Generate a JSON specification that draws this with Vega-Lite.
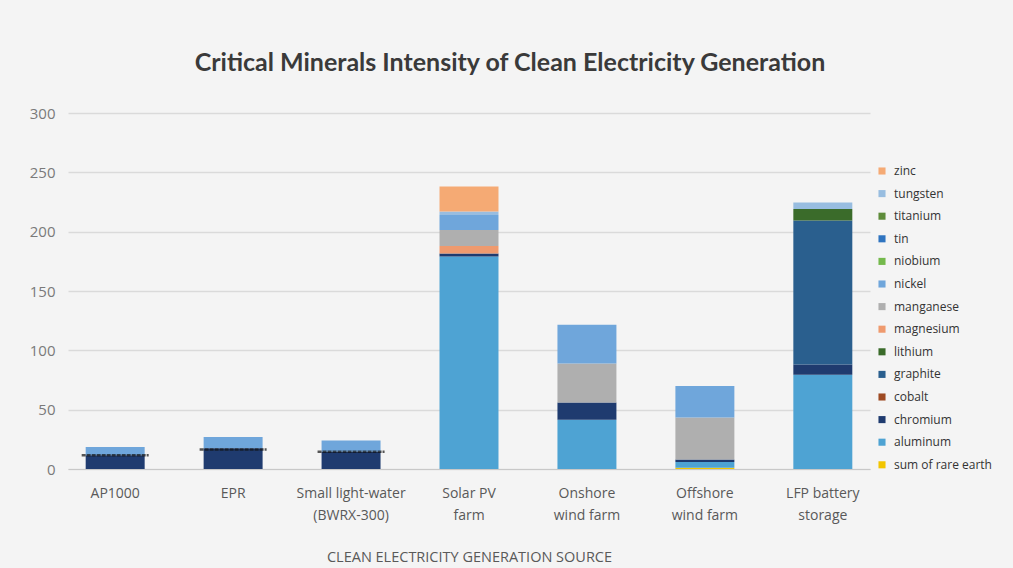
{
  "$schema": "https://vega.github.io/schema/vega-lite/v6.json",
  "autosize": "none",
  "width": 802,
  "height": 356,
  "padding": {"left": 68, "top": 113, "right": 143, "bottom": 99},
  "background": "#f4f4f4",
  "config": {
    "view": {"stroke": null},
    "font": "Lato"
  },
  "title": {
    "text": "Critical Minerals Intensity of Clean Electricity Generation",
    "font": "Lato",
    "fontSize": 25,
    "fontWeight": "bold",
    "color": "#3a3a3a",
    "anchor": "middle",
    "frame": "group",
    "dx": 41,
    "offset": 30
  },
  "datasets": {
    "minerals": [
      {"source": "AP1000", "mineral": "chromium", "value": 11.5},
      {"source": "AP1000", "mineral": "nickel", "value": 7},
      {"source": "EPR", "mineral": "chromium", "value": 17.5},
      {"source": "EPR", "mineral": "nickel", "value": 9.5},
      {"source": "Small light-water\n(BWRX-300)", "mineral": "chromium", "value": 14.5},
      {"source": "Small light-water\n(BWRX-300)", "mineral": "nickel", "value": 9.5},
      {"source": "Solar PV\nfarm", "mineral": "aluminum", "value": 179},
      {"source": "Solar PV\nfarm", "mineral": "chromium", "value": 2.5},
      {"source": "Solar PV\nfarm", "mineral": "magnesium", "value": 6.5},
      {"source": "Solar PV\nfarm", "mineral": "manganese", "value": 13.5},
      {"source": "Solar PV\nfarm", "mineral": "nickel", "value": 12.5},
      {"source": "Solar PV\nfarm", "mineral": "tungsten", "value": 3},
      {"source": "Solar PV\nfarm", "mineral": "zinc", "value": 21},
      {"source": "Onshore\nwind farm", "mineral": "aluminum", "value": 41.5},
      {"source": "Onshore\nwind farm", "mineral": "chromium", "value": 14.5},
      {"source": "Onshore\nwind farm", "mineral": "manganese", "value": 33},
      {"source": "Onshore\nwind farm", "mineral": "nickel", "value": 32.5},
      {"source": "Offshore\nwind farm", "mineral": "sum of rare earth", "value": 1},
      {"source": "Offshore\nwind farm", "mineral": "aluminum", "value": 5},
      {"source": "Offshore\nwind farm", "mineral": "chromium", "value": 2},
      {"source": "Offshore\nwind farm", "mineral": "manganese", "value": 35.5},
      {"source": "Offshore\nwind farm", "mineral": "nickel", "value": 26.5},
      {"source": "LFP battery\nstorage", "mineral": "aluminum", "value": 79.5},
      {"source": "LFP battery\nstorage", "mineral": "chromium", "value": 8.5},
      {"source": "LFP battery\nstorage", "mineral": "graphite", "value": 121.5},
      {"source": "LFP battery\nstorage", "mineral": "lithium", "value": 9.5},
      {"source": "LFP battery\nstorage", "mineral": "tungsten", "value": 5.5}
    ],
    "dotted": [
      {"source": "AP1000", "value": 11.5},
      {"source": "EPR", "value": 16.5},
      {"source": "Small light-water\n(BWRX-300)", "value": 14.5}
    ]
  },
  "encoding": {
    "x": {
      "field": "source",
      "type": "nominal",
      "sort": null,
      "scale": {"paddingInner": 0.5, "paddingOuter": 0.15},
      "axis": {
        "title": "CLEAN ELECTRICITY GENERATION SOURCE",
        "titleFont": "Open Sans",
        "titleFontSize": 14.5,
        "titleFontWeight": "normal",
        "titleColor": "#595959",
        "titlePadding": 28,
        "labelAngle": 0,
        "labelExpr": "split(datum.label, '\\n')",
        "labelFont": "Open Sans",
        "labelFontSize": 14,
        "labelLineHeight": 22,
        "labelColor": "#595959",
        "labelPadding": 17,
        "ticks": false,
        "domainColor": "#c8c8c8",
        "domainWidth": 1
      }
    }
  },
  "layer": [
    {
      "data": {"name": "minerals"},
      "transform": [
        {"calculate": "indexof(['sum of rare earth','aluminum','chromium','cobalt','graphite','lithium','magnesium','manganese','nickel','niobium','tin','titanium','tungsten','zinc'], datum.mineral)", "as": "stackOrder"}
      ],
      "mark": {"type": "bar"},
      "encoding": {
        "y": {
          "field": "value",
          "type": "quantitative",
          "stack": "zero",
          "scale": {"domain": [0, 300]},
          "axis": {
            "title": null,
            "values": [0, 50, 100, 150, 200, 250, 300],
            "labelFont": "Open Sans",
            "labelFontSize": 15,
            "labelColor": "#7a7a7a",
            "labelPadding": 13,
            "ticks": false,
            "domain": false,
            "gridColor": "#dadada",
            "gridWidth": 1.5
          }
        },
        "color": {
          "field": "mineral",
          "type": "nominal",
          "scale": {
            "domain": ["zinc", "tungsten", "titanium", "tin", "niobium", "nickel", "manganese", "magnesium", "lithium", "graphite", "cobalt", "chromium", "aluminum", "sum of rare earth"],
            "range": ["#f5aa74", "#98bde0", "#5e8c3a", "#2f74c0", "#74b94c", "#6fa6db", "#afafaf", "#ef9a6e", "#3a6b2a", "#2a5f8e", "#9e4a23", "#1f3b6f", "#4ea3d3", "#f2c500"]
          },
          "legend": {
            "title": null,
            "orient": "none",
            "legendX": 808,
            "legendY": 52,
            "symbolType": "square",
            "symbolSize": 50,
            "symbolStrokeWidth": 0,
            "labelFont": "Open Sans",
            "labelFontSize": 12,
            "labelColor": "#333333",
            "labelLimit": 200,
            "rowPadding": 10.6,
            "labelOffset": 6
          }
        },
        "order": {"field": "stackOrder", "type": "quantitative"}
      }
    },
    {
      "data": {"name": "dotted"},
      "mark": {"type": "tick", "orient": "horizontal", "size": 67, "thickness": 0, "filled": false, "stroke": "#111111", "strokeWidth": 2.5, "strokeDash": [2, 3]},
      "encoding": {
        "y": {"field": "value", "type": "quantitative"}
      }
    }
  ]
}
